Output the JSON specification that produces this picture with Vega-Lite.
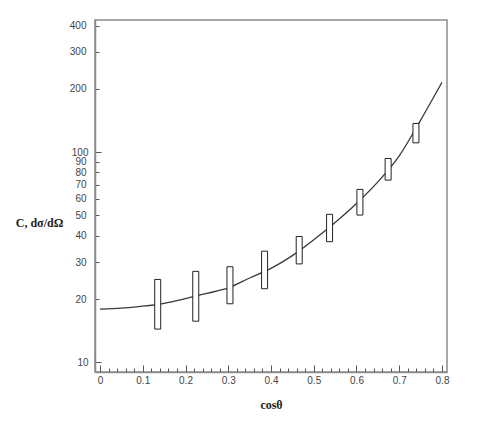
{
  "$schema": "https://vega.github.io/schema/vega-lite/v6.json",
  "width": 352,
  "height": 352,
  "autosize": {"type": "none"},
  "padding": {"left": 95, "top": 20, "right": 38, "bottom": 62},
  "background": "white",
  "config": {
    "view": {"stroke": "#8a8a8a", "strokeWidth": 1.5},
    "axis": {"grid": false, "domainColor": "#8a8a8a", "domainWidth": 1.5, "tickColor": "#555", "labelColor": "#444", "labelFont": "Liberation Sans", "labelFontSize": 10}
  },
  "datasets": {
    "curve": [
      {"c": 0.0, "v": 17.9}, {"c": 0.05, "v": 18.1}, {"c": 0.1, "v": 18.5}, {"c": 0.15, "v": 19.1},
      {"c": 0.2, "v": 20.1}, {"c": 0.25, "v": 21.3}, {"c": 0.3, "v": 22.6}, {"c": 0.35, "v": 25.2},
      {"c": 0.4, "v": 28.0}, {"c": 0.45, "v": 32.2}, {"c": 0.5, "v": 38.3}, {"c": 0.55, "v": 46.3},
      {"c": 0.6, "v": 57.0}, {"c": 0.65, "v": 72.2}, {"c": 0.7, "v": 96.0}, {"c": 0.75, "v": 142.0},
      {"c": 0.8, "v": 215.0}
    ],
    "boxes": [
      {"c": 0.135, "lo": 14.4, "hi": 24.8},
      {"c": 0.224, "lo": 15.7, "hi": 27.1},
      {"c": 0.304, "lo": 19.0, "hi": 28.5},
      {"c": 0.385, "lo": 22.4, "hi": 33.8},
      {"c": 0.466, "lo": 29.4, "hi": 39.7},
      {"c": 0.537, "lo": 37.5, "hi": 50.6},
      {"c": 0.608, "lo": 50.2, "hi": 66.5},
      {"c": 0.674, "lo": 73.6, "hi": 93.3},
      {"c": 0.739, "lo": 110.7, "hi": 136.9}
    ]
  },
  "encoding": {
    "x": {
      "field": "c", "type": "quantitative",
      "scale": {"domain": [0, 0.8], "nice": false, "zero": false},
      "axis": {
        "title": "cosθ",
        "titleFont": "Liberation Serif", "titleFontSize": 12, "titleFontWeight": "bold", "titleColor": "#222",
        "titlePadding": 11,
        "values": [0,0.02,0.04,0.06,0.08,0.1,0.12,0.14,0.16,0.18,0.2,0.22,0.24,0.26,0.28,0.3,0.32,0.34,0.36,0.38,0.4,0.42,0.44,0.46,0.48,0.5,0.52,0.54,0.56,0.58,0.6,0.62,0.64,0.66,0.68,0.7,0.72,0.74,0.76,0.78,0.8],
        "labelExpr": "abs(datum.value*10 - round(datum.value*10)) < 0.001 ? (datum.value == 0 ? '0' : format(datum.value, '.1f')) : ''",
        "tickSize": {"condition": {"test": "abs(datum.value*10 - round(datum.value*10)) < 0.001", "value": -7}, "value": -4},
        "labelPadding": 10,
        "labelOverlap": false, "labelFlush": false, "labelBound": false
      }
    }
  },
  "layer": [
    {
      "data": {"name": "curve"},
      "mark": {"type": "line", "color": "#3a3a3a", "strokeWidth": 1.3, "interpolate": "monotone"},
      "encoding": {
        "y": {
          "field": "v", "type": "quantitative",
          "scale": {"type": "log", "domain": [9, 425], "nice": false},
          "axis": {
            "title": "C, dσ/dΩ",
            "titleFont": "Liberation Serif", "titleFontSize": 12, "titleFontWeight": "bold", "titleColor": "#222",
            "titleAngle": 0, "titleAlign": "center", "titleBaseline": "middle",
            "titleX": -56, "titleY": 202,
            "values": [10,20,30,40,50,60,70,80,90,100,200,300,400],
            "format": "d",
            "tickSize": {"condition": {"test": "datum.value == 10 || datum.value == 100", "value": -6}, "value": -4},
            "labelPadding": 13,
            "labelOverlap": false, "labelBound": false
          }
        }
      }
    },
    {
      "data": {"name": "boxes"},
      "mark": {"type": "bar", "size": 6, "fill": "white", "stroke": "#222", "strokeWidth": 1},
      "encoding": {
        "y": {"field": "lo", "type": "quantitative", "scale": {"type": "log", "domain": [9, 425], "nice": false}},
        "y2": {"field": "hi"}
      }
    }
  ]
}
